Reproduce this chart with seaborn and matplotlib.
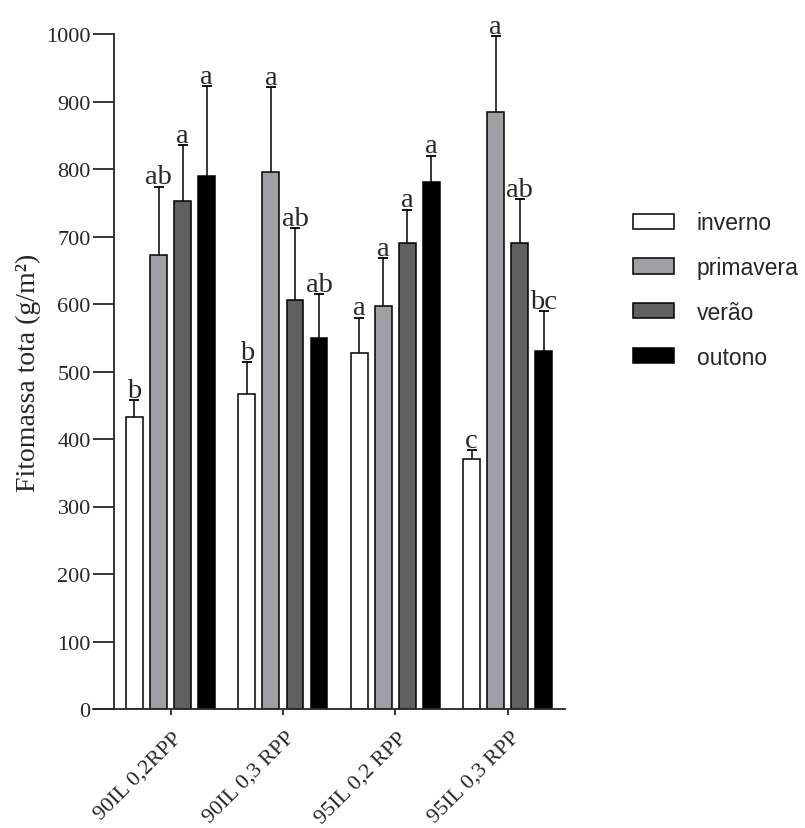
import numpy as np
import pandas as pd
import matplotlib
matplotlib.use("Agg")
import matplotlib.pyplot as plt
import matplotlib.transforms as mtrans
import seaborn as sns

# ---- data ----
categories = ["90IL 0,2RPP", "90IL 0,3 RPP", "95IL 0,2 RPP", "95IL 0,3 RPP"]
seasons = ["inverno", "primavera", "verão", "outono"]

inverno = [432, 466, 527, 371]
primavera = [673, 796, 597, 885]
verao = [753, 606, 691, 691]
outono = [790, 549, 781, 531]

err_inverno = [26, 48, 53, 12]
err_primavera = [101, 125, 71, 112]
err_verao = [83, 107, 49, 65]
err_outono = [133, 66, 39, 58]

letters_inverno = ["b", "b", "a", "c"]
letters_primavera = ["ab", "a", "a", "a"]
letters_verao = ["a", "ab", "a", "ab"]
letters_outono = ["a", "ab", "a", "bc"]

y_ticks = [0, 100, 200, 300, 400, 500, 600, 700, 800, 900, 1000]

colors = ["#ffffff", "#a0a0a4", "#606060", "#000000"]

values = [inverno, primavera, verao, outono]
errors = [err_inverno, err_primavera, err_verao, err_outono]
letters = [letters_inverno, letters_primavera, letters_verao, letters_outono]

rows = []
for s, vals in zip(seasons, values):
    for c, v in zip(categories, vals):
        rows.append({"grupo": c, "estacao": s, "valor": v})
df = pd.DataFrame(rows)

# ---- style ----
sns.set_style("ticks")
plt.rcParams["font.family"] = ["Liberation Serif", "DejaVu Serif"]
plt.rcParams["axes.linewidth"] = 1.3

fig = plt.figure(figsize=(8.05, 8.29), dpi=100)
ax = fig.add_axes([93 / 805, 1 - 710 / 829, (565 - 93) / 805, (710 - 35) / 829])

sns.barplot(data=df, x="grupo", y="valor", hue="estacao", order=categories,
            hue_order=seasons, palette=colors, width=0.857, gap=0.3,
            edgecolor="black", linewidth=1.1, errorbar=None, ax=ax)

for cont, errs, lets in zip(ax.containers, errors, letters):
    xs = [b.get_x() + b.get_width() / 2 for b in cont]
    ys = [b.get_height() for b in cont]
    tops = [y + e for y, e in zip(ys, errs)]
    ax.vlines(xs, ys, tops, color="black", lw=1.1, zorder=1)
    ax.plot(xs, tops, ls="none", marker="_", markersize=7.2, mew=1.3,
            color="black", clip_on=False)
    for x, t, l in zip(xs, tops, lets):
        ax.annotate(l, (x, t), xytext=(0, 2.2), textcoords="offset points",
                    ha="center", va="baseline", fontsize=20.5,
                    annotation_clip=False)

ax.set_xlim(-0.69, 3.51)
ax.set_ylim(0, 1000)
ax.set_yticks(y_ticks)
ax.spines["left"].set_position(("data", -0.5))
sns.despine(ax=ax)
ax.tick_params(axis="y", direction="out", length=15, width=1.3, labelsize=16, pad=2)
ax.tick_params(axis="x", direction="out", length=4.5, width=1.3, labelsize=16, pad=9)
ax.set_xlabel("")
ax.set_ylabel("Fitomassa tota (g/m²)", fontsize=20, labelpad=4)
shift = mtrans.ScaledTranslation(2 / 100, 0, fig.dpi_scale_trans)
for lab in ax.get_xticklabels():
    lab.set_rotation(45)
    lab.set_ha("right")
    lab.set_rotation_mode("anchor")
    lab.set_transform(lab.get_transform() + shift)

handles, labels = ax.get_legend_handles_labels()
if ax.get_legend() is not None:
    ax.get_legend().remove()
for h in handles:
    h.set_edgecolor("black")
    h.set_linewidth(1.1)
fig.legend(handles, labels, loc="center left", bbox_to_anchor=(0.7605, 0.649),
           frameon=False, prop={"family": "Liberation Sans", "size": 16.5},
           handlelength=1.8, handleheight=0.65, labelspacing=0.95,
           handletextpad=1.0)

fig.savefig("out.png", dpi=100)
